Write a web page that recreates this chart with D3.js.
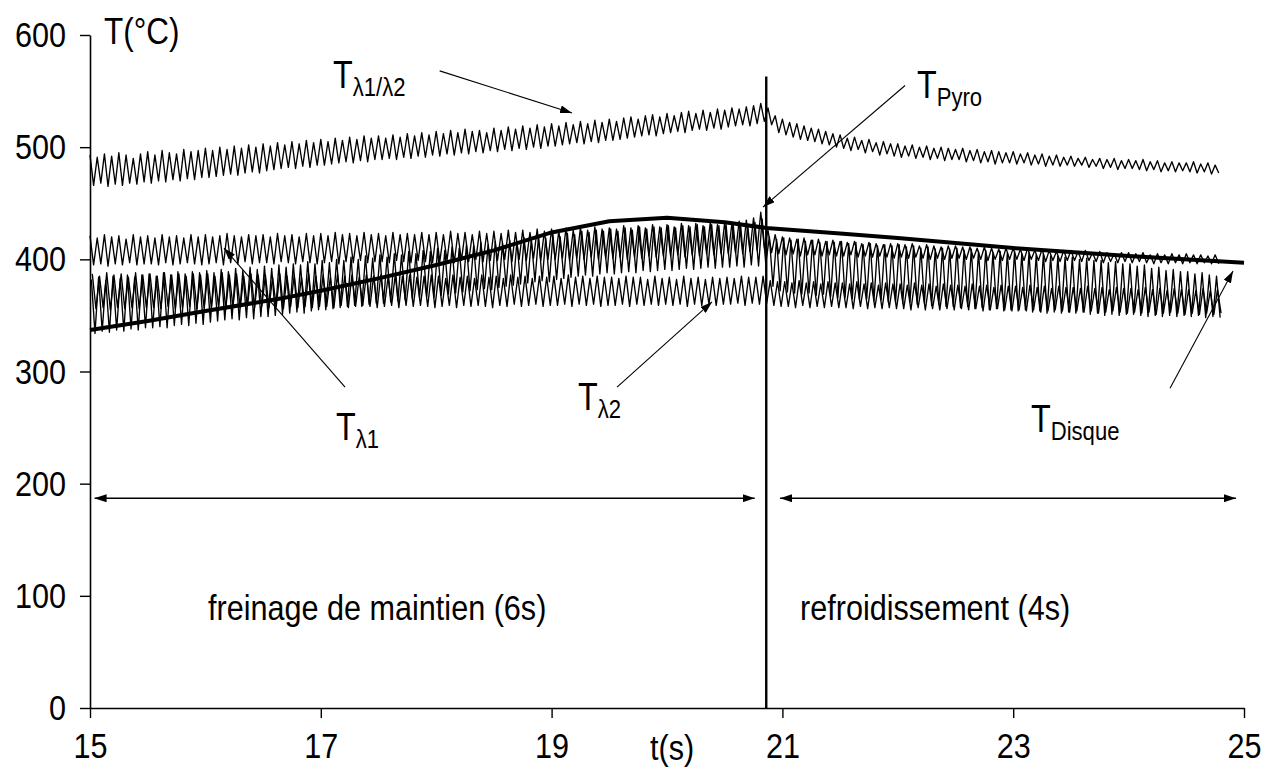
<!DOCTYPE html>
<html>
<head>
<meta charset="utf-8">
<script src="https://cdn.jsdelivr.net/npm/d3@7"></script>
<style>
  html, body { margin: 0; padding: 0; background: #fff; }
  svg { display: block; }
</style>
</head>
<body>
<svg id="chart" width="1271" height="776"></svg>
<script>
// ---------------------------------------------------------------------------
// Temperature records during a holding brake (6 s) followed by cooling (4 s).
// Oscillating signals are stored as samples taken every half period
// (even index = crest, odd index = trough), in °C.
// ---------------------------------------------------------------------------
const sampleStep = 0.03125; // s between two stored samples

// T λ1/λ2 (bichromatic ratio temperature)
const tempRatio = [
  493,466,491,468,494,465,492,467,495,466,493,468,490,467,494,469,
  496,468,493,470,497,469,495,471,494,470,498,472,496,471,497,473,
  499,473,497,474,500,475,498,476,501,475,499,477,502,478,500,477,
  503,479,501,480,504,481,502,482,505,481,503,483,506,482,504,484,
  507,484,505,485,508,486,506,487,509,486,507,488,510,487,508,489,
  510,489,508,490,511,489,509,491,512,490,510,492,513,491,511,493,
  514,492,512,494,515,493,513,495,516,494,514,496,515,495,513,497,
  517,496,515,498,518,497,516,499,519,498,517,500,520,499,518,501,
  521,501,519,502,522,503,520,504,523,503,521,505,524,504,522,506,
  525,506,523,507,526,508,527,509,525,510,528,511,529,510,527,512,
  530,513,528,514,531,513,532,515,530,516,533,515,531,517,534,516,
  533,518,535,519,534,520,536,519,537,521,539,523,535,520,528,513,
  525,511,522,509,521,507,519,506,517,505,516,503,514,502,512,500,
  511,499,508,497,509,498,506,495,507,496,504,493,505,494,503,492,
  503,491,501,492,502,490,500,491,501,489,499,490,500,488,499,489,
  498,489,499,487,497,488,498,486,496,487,497,485,496,486,495,486,
  496,485,494,486,495,484,493,485,494,483,492,484,493,483,491,484,
  492,483,490,484,491,482,489,483,490,481,489,482,490,480,488,481,
  489,481,488,480,489,479,487,480,488,478,486,479,487,478,486,479,
  486,478,487,477,485,478,486,476,484,477
];

// T λ1 (single wavelength 1)
const tempLambda1 = [
  421,395,419,396,422,394,420,396,421,395,418,397,422,395,420,396,
  421,396,419,395,422,397,420,395,421,396,419,397,422,396,420,395,
  422,396,420,397,421,395,423,397,421,396,420,398,422,396,421,397,
  422,397,420,396,423,398,421,397,422,396,420,398,423,397,421,396,
  423,397,421,398,424,396,422,398,423,397,421,399,424,397,422,398,
  423,398,421,397,424,399,422,398,423,397,422,399,424,398,422,397,
  424,398,422,399,425,397,423,399,424,398,422,400,425,398,423,399,
  425,399,423,400,426,398,424,400,426,399,424,401,427,399,425,400,
  427,400,425,401,428,399,426,401,428,400,426,402,429,400,427,401,
  428,401,427,402,430,400,428,402,430,401,428,403,431,402,429,403,
  431,403,429,404,432,402,430,404,432,403,430,405,433,404,431,405,
  433,405,432,406,434,405,435,407,437,408,442,410,426,406,422,405,
  420,404,419,405,418,403,419,404,417,404,418,403,416,404,417,403,
  416,403,415,404,416,402,414,403,415,402,414,403,413,402,414,401,
  414,402,413,401,414,402,412,401,413,400,412,401,411,400,412,401,
  412,401,411,400,411,401,410,400,411,399,410,400,409,399,410,400,
  410,400,409,399,410,400,408,399,409,398,408,399,407,398,408,399,
  408,399,407,398,408,399,406,398,407,397,406,398,405,397,406,398,
  406,397,405,398,406,397,404,396,405,397,404,396,405,397,404,396,
  405,397,404,396,404,397,403,396,404,396
];

// T Pyro (pyrometer)
const tempPyro = [
  382,334,384,336,381,335,385,337,383,336,386,338,384,337,386,339,
  387,339,385,340,388,339,386,341,389,342,387,341,389,343,388,342,
  390,344,388,345,391,346,389,347,392,346,390,348,393,347,391,349,
  394,349,392,350,395,351,393,352,396,353,395,352,398,354,396,355,
  399,355,397,356,400,357,399,358,402,359,400,358,403,360,401,361,
  404,361,402,362,405,363,404,364,407,365,405,366,408,367,407,366,
  410,368,408,369,411,370,410,371,413,372,412,373,415,374,413,373,
  416,375,414,376,417,377,416,378,419,379,418,380,421,381,419,380,
  422,382,420,383,423,384,422,385,425,386,424,385,426,387,425,388,
  427,387,425,388,428,389,426,388,429,390,427,389,429,390,428,391,
  430,390,428,391,430,392,429,391,431,392,429,393,431,392,430,393,
  431,393,430,394,432,393,431,395,433,394,436,396,420,376,418,372,
  419,371,417,370,418,369,416,370,417,368,415,369,416,367,415,366,
  416,366,414,365,415,364,413,365,414,363,412,364,413,362,412,362,
  413,361,411,362,412,360,410,361,411,359,409,360,410,358,409,358,
  410,357,408,358,409,356,407,357,408,355,406,356,407,354,406,355,
  407,354,405,355,406,353,404,354,405,352,403,353,403,352,402,353,
  402,352,400,353,401,351,399,352,399,350,397,351,398,350,396,351,
  396,351,394,350,395,349,392,350,393,349,390,350,391,349,389,350,
  389,349,387,350,388,348,386,349,385,348
];

// T λ2 (single wavelength 2)
const tempLambda2 = [
  387,356,385,357,388,355,386,357,387,356,384,357,388,356,386,357,
  387,357,385,356,388,358,386,356,387,357,385,358,387,356,386,357,
  387,357,385,358,388,356,386,358,387,357,385,358,387,357,386,358,
  386,357,384,358,387,356,385,358,386,357,384,358,387,357,385,358,
  386,358,384,357,387,359,385,357,386,358,384,359,386,358,385,357,
  386,358,384,359,386,357,385,359,386,358,384,359,385,358,386,357,
  385,358,383,359,386,357,384,359,385,358,383,359,386,358,384,357,
  385,359,383,358,386,360,384,358,385,359,383,360,385,358,384,359,
  385,359,383,360,386,358,384,360,385,359,383,360,385,358,384,359,
  384,359,383,360,385,358,384,360,384,359,382,360,385,359,383,360,
  384,359,382,360,385,358,383,360,384,359,382,360,384,359,383,360,
  384,360,383,361,385,359,384,361,384,360,385,361,381,359,380,358,
  380,358,379,357,381,359,379,357,380,358,378,357,380,358,379,357,
  379,357,378,356,380,358,378,356,379,357,377,356,379,357,378,356,
  378,356,377,355,379,357,377,355,378,356,376,355,378,356,377,355,
  377,356,376,355,378,356,376,354,377,355,375,356,377,355,376,354,
  376,355,375,354,377,355,375,353,376,354,374,355,376,354,375,353,
  375,354,374,353,376,354,374,352,375,353,373,354,375,353,374,352,
  374,353,373,352,375,353,373,351,374,352,372,353,374,352,373,351,
  373,352,372,351,374,352,372,351,373,352
];

// first sample time of each oscillating record (s)
const ratioStart = 15.0;
const lambda1Start = 15.0;
const pyroStart = 15.012;
const lambda2Start = 15.02;

// T Disque (thermocouple in the disc), smooth record
const diskTimes = [15, 15.5, 16, 16.65, 17, 17.5, 18, 18.5, 19, 19.5, 20, 20.5, 20.86, 21.5, 22, 23, 24, 25];
const diskTemps = [337, 345, 354, 365, 372, 383, 395, 408, 424, 434, 437, 433, 428, 423, 419, 410, 403, 397];

// end of the holding brake (s)
const brakeEnd = 20.86;

// axes
const xTicks = [15, 17, 19, 21, 23, 25];
const yTicks = [0, 100, 200, 300, 400, 500, 600];
const xDomain = [15, 25];
const yDomain = [0, 600];

// ---------------------------------------------------------------------------
const FONT = '"Liberation Sans", Arial, Helvetica, sans-serif';
const SX = 0.85; // horizontal squeeze of the lettering

const svg = d3.select("#chart");
const x = d3.scaleLinear().domain(xDomain).range([90, 1244]);
const y = d3.scaleLinear().domain(yDomain).range([708, 35]);

const defs = svg.append("defs");
defs.append("marker")
  .attr("id", "head")
  .attr("viewBox", "0 0 12 8")
  .attr("refX", 12).attr("refY", 4)
  .attr("markerWidth", 12).attr("markerHeight", 8)
  .attr("markerUnits", "userSpaceOnUse")
  .attr("orient", "auto-start-reverse")
  .append("path").attr("d", "M0,0 L12,4 L0,8 Z").attr("fill", "#000");

// ---- axes ----
const yAxis = d3.axisLeft(y).tickValues(yTicks).tickSize(10).tickSizeOuter(0).tickPadding(14);
const gy = svg.append("g").attr("transform", `translate(${x(15)},0)`).call(yAxis);
const xAxis = d3.axisBottom(x).tickValues(xTicks).tickSize(10).tickSizeOuter(0).tickPadding(14);
const gx = svg.append("g").attr("transform", `translate(0,${y(0)})`).call(xAxis);

[gy, gx].forEach(g => {
  g.attr("font-family", FONT).attr("font-size", 36);
  g.select(".domain").attr("stroke", "#000").attr("stroke-width", 1.6);
  g.selectAll(".tick line").attr("stroke", "#000").attr("stroke-width", 1.4);
  g.selectAll(".tick text").attr("fill", "#000");
});
gy.selectAll(".tick text").each(function () {
  const t = d3.select(this);
  t.attr("x", +t.attr("x") / SX).attr("transform", `scale(${SX},1)`);
});
gx.selectAll(".tick text").attr("transform", `scale(${SX},1)`);

// ---- signals ----
const line = d3.line().x(d => x(d[0])).y(d => y(d[1]));
const sampled = (values, start) => values.map((v, i) => [start + i * sampleStep, v]);

const records = [
  { values: tempLambda2, start: lambda2Start },
  { values: tempPyro, start: pyroStart },
  { values: tempLambda1, start: lambda1Start },
  { values: tempRatio, start: ratioStart }
];
svg.append("g").selectAll("path").data(records).join("path")
  .attr("d", d => line(sampled(d.values, d.start)))
  .attr("fill", "none")
  .attr("stroke", "#000")
  .attr("stroke-width", 1.35)
  .attr("stroke-linejoin", "round");

svg.append("path")
  .attr("d", line(diskTimes.map((t, i) => [t, diskTemps[i]])))
  .attr("fill", "none")
  .attr("stroke", "#000")
  .attr("stroke-width", 4)
  .attr("stroke-linejoin", "round");

// end of braking
svg.append("line")
  .attr("x1", x(brakeEnd)).attr("x2", x(brakeEnd))
  .attr("y1", y(563)).attr("y2", y(0))
  .attr("stroke", "#000").attr("stroke-width", 2.4);

// ---- annotations ----
function label(t, v, main, sub, size, subSize, subShift) {
  const txt = svg.append("text")
    .attr("transform", `translate(${x(t)},${y(v)}) scale(${SX},1)`)
    .attr("font-family", FONT)
    .attr("font-size", size)
    .attr("fill", "#000");
  txt.append("tspan").text(main);
  if (sub) txt.append("tspan").attr("font-size", subSize).attr("dy", subShift).text(sub);
  return txt;
}

function arrow(t1, v1, t2, v2, width, both) {
  const a = svg.append("line")
    .attr("x1", x(t1)).attr("y1", y(v1))
    .attr("x2", x(t2)).attr("y2", y(v2))
    .attr("stroke", "#000").attr("stroke-width", width)
    .attr("marker-end", "url(#head)");
  if (both) a.attr("marker-start", "url(#head)");
}

label(15.121, 592, "T(°C)", null, 37);
label(19.853, -46, "t(s)", null, 36);

label(17.106, 553, "T", "λ1/λ2", 38, 26, 8);
label(22.166, 544, "T", "Pyro", 38, 26, 8);
label(17.132, 239, "T", "λ1", 38, 26, 8);
label(19.229, 266, "T", "λ2", 38, 26, 8);
label(23.154, 246, "T", "Disque", 38, 26, 8);

arrow(18.030, 568, 19.177, 530.5, 1.1);
arrow(22.063, 555, 20.832, 446.6, 1.1);
arrow(17.210, 286, 16.161, 410, 1.1);
arrow(19.567, 286, 20.390, 362, 1.1);
arrow(24.359, 285, 24.905, 389.6, 1.1);

// phase spans
arrow(15.04, 187, 20.76, 187, 1.5, true);
arrow(20.98, 187, 24.93, 187, 1.5, true);
label(16.023, 78.5, "freinage de maintien (6s)", null, 36);
label(21.153, 78.5, "refroidissement (4s)", null, 36);
</script>
</body>
</html>
